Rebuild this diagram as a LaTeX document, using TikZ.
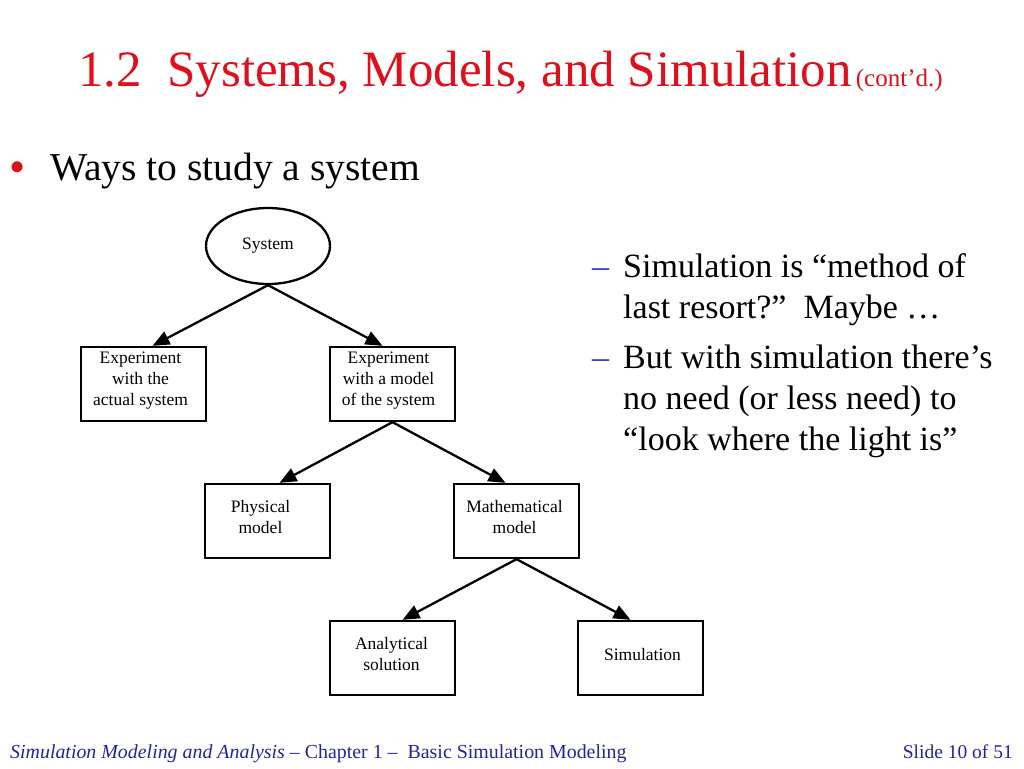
\documentclass[tikz,border=0pt]{standalone}
\usepackage{fontspec}
\setmainfont{Liberation Serif}
\usetikzlibrary{arrows.meta,shapes.geometric,calc}
\definecolor{titlered}{RGB}{222,16,28}
\definecolor{footblue}{RGB}{36,36,150}
\definecolor{dashblue}{RGB}{50,50,190}
\begin{document}
\begin{tikzpicture}[x=1pt,y=-1pt,
  box/.style={draw=black,line width=2.3pt,minimum width=125pt,minimum height=74pt,inner sep=0pt},
  oval/.style={ellipse,draw=black,line width=2.3pt,minimum width=124pt,minimum height=76pt,inner sep=0pt},
  boxtext/.style={align=center,inner sep=0pt,font=\fontsize{17.5}{21}\selectfont},
  arr/.style={line width=2.3pt,-{Triangle[length=17pt,width=14pt]}},
  bodytext/.style={anchor=base west,inner sep=0pt,font=\fontsize{34}{41}\selectfont},
  dashtext/.style={anchor=base west,inner sep=0pt,text=dashblue,font=\fontsize{34}{41}\selectfont}]
\useasboundingbox (0,0) rectangle (1024,768);
\fill[white] (0,0) rectangle (1024,768);
% title
\node[anchor=base west,inner sep=0pt,text=titlered] (title) at (78,86)
  {\fontsize{51}{60}\selectfont 1.2\ \ Systems, Models, and Simulation\fontsize{25}{30}\selectfont\,(cont’d.)};
% bullet
\node[anchor=base,inner sep=0pt,text=titlered,font=\fontsize{46}{50}\selectfont] (bul) at (17.5,182) {•};
\node[anchor=base west,inner sep=0pt,font=\fontsize{39.5}{46}\selectfont] (ways) at (50,180) {Ways to study a system};
% right text
\node[dashtext] (d1) at (592,277) {–};
\node[bodytext] (t1a) at (623,277) {Simulation is “method of};
\node[bodytext] (t1b) at (623,318) {last resort?”\ \ Maybe …};
\node[dashtext] (d2) at (592,368) {–};
\node[bodytext] (t2a) at (623,368) {But with simulation there’s};
\node[bodytext] (t2b) at (623,409) {no need (or less need) to};
\node[bodytext] (t2c) at (623,450) {“look where the light is”};
% diagram
\node[oval] (sys) at (268,246) {};
\node[boxtext] (syst) at (sys.center) {System};
\node[box] (b1) at (143.5,384) {};
\node[boxtext] (b1t) at ([yshift=3pt,xshift=-3pt]b1.center) {Experiment\\with the\\actual system};
\node[box] (b2) at (392.5,384) {};
\node[boxtext] (b2t) at ([yshift=3pt,xshift=-4pt]b2.center) {Experiment\\with a model\\of the system};
\node[box] (phys) at (267.5,521) {};
\node[boxtext] (physt) at ([yshift=4pt,xshift=-7pt]phys.center) {Physical\\model};
\node[box] (math) at (516.5,521) {};
\node[boxtext] (matht) at ([yshift=4pt,xshift=-2pt]math.center) {Mathematical\\model};
\node[box] (anal) at (392.5,658) {};
\node[boxtext] (analt) at ([yshift=4pt,xshift=-1pt]anal.center) {Analytical\\solution};
\node[box] (sim) at (640.5,658) {};
\node[boxtext] (simt) at ([yshift=3pt,xshift=2pt]sim.center) {Simulation};
\draw[arr] (sys.south) -- ([xshift=9pt]b1.north);
\draw[arr] (sys.south) -- ([xshift=-10pt]b2.north);
\draw[arr] (b2.south) -- ([xshift=12pt]phys.north);
\draw[arr] (b2.south) -- ([xshift=-11pt]math.north);
\draw[arr] (math.south) -- ([xshift=10pt]anal.north);
\draw[arr] (math.south) -- ([xshift=-10pt]sim.north);
% footer
\node[anchor=base west,inner sep=0pt,text=footblue,font=\fontsize{19.9}{24}\selectfont] (foot) at (10,758)
  {\itshape Simulation Modeling and Analysis\upshape\ – Chapter 1 –\ \ Basic Simulation Modeling};
\node[anchor=base east,inner sep=0pt,text=footblue,font=\fontsize{19.5}{23}\selectfont] (slide) at (1013,758) {Slide 10 of 51};
\end{tikzpicture}
\end{document}
